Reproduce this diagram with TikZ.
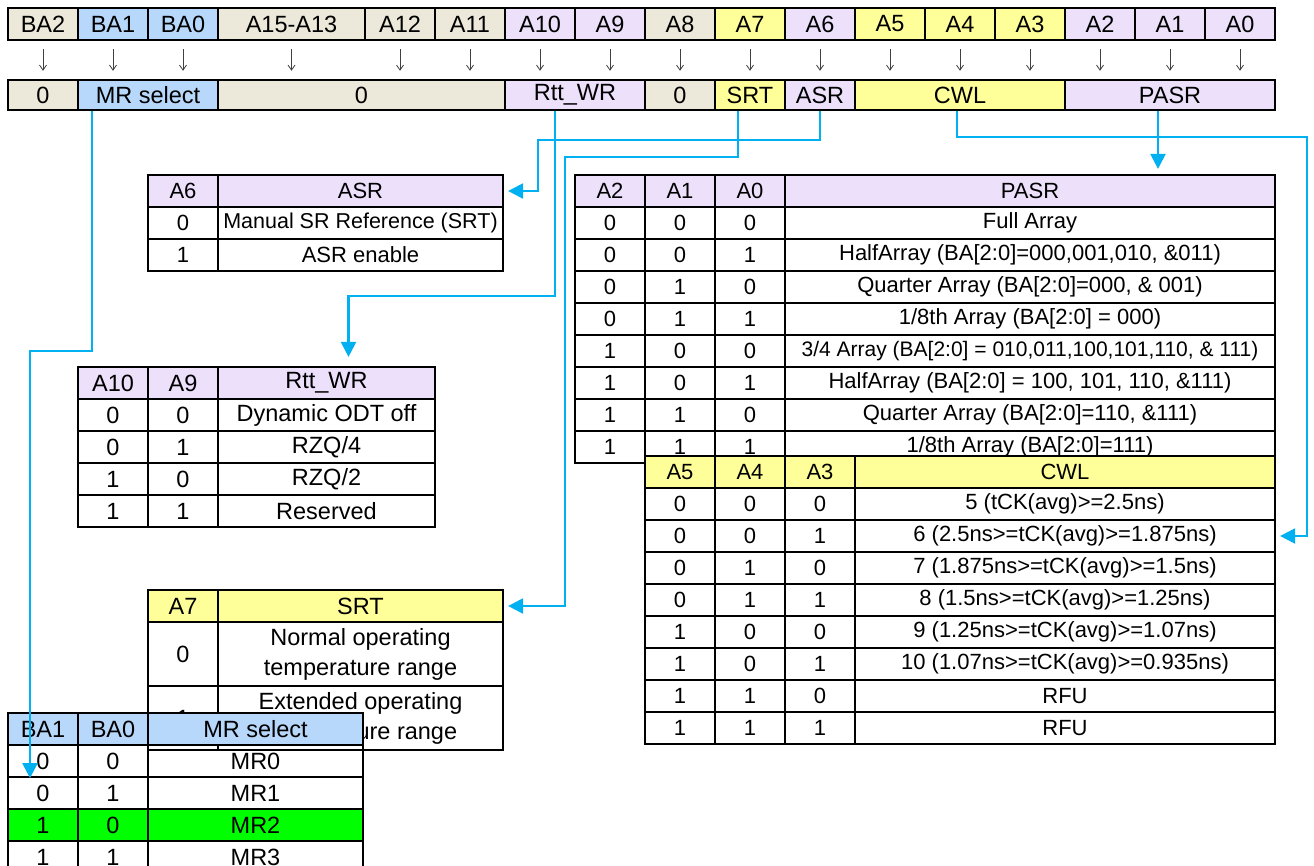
\documentclass[tikz,border=0pt]{standalone}
\usepackage{fontspec}
\setmainfont{Liberation Sans}
\usetikzlibrary{arrows.meta, calc}

\definecolor{bitbeige}{RGB}{236,233,218}
\definecolor{bitblue}{RGB}{183,216,250}
\definecolor{bitlilac}{RGB}{236,224,250}
\definecolor{bityellow}{RGB}{255,255,153}
\definecolor{linkcyan}{RGB}{0,176,240}
\definecolor{mrgreen}{RGB}{0,255,0}

\tikzset{
  bitcell/.style={draw=black, line width=1.5pt, minimum height=32pt, inner sep=0pt, font=\fontsize{23.5}{27}\selectfont},
  tabcell/.style={draw=black, line width=2.2pt, minimum height=32pt, inner sep=0pt, font=\fontsize{22}{26}\selectfont},
  bigtext/.style={font=\fontsize{23.5}{30}\selectfont},
  link/.style={draw=linkcyan, line width=2.2pt, -{Triangle[length=15pt,width=15pt]}},
  tick/.style={draw=black!75, line width=0.8pt, -{Straight Barb[length=5pt,width=7pt]}},
}

\begin{document}
\begin{tikzpicture}[x=1pt, y=-1pt]
    \fill[white] (0,0) rectangle (1314,865);
    \useasboundingbox (0,0) rectangle (1314,865);

    % address bits and the small arrows below them
    \foreach \nm/\lbl/\xa/\w/\col in {ba2/BA2/8/70/bitbeige, ba1/BA1/78/70/bitblue, ba0/BA0/148/70/bitblue,
        a15/A15-A13/218/147/bitbeige, a12/A12/365/70/bitbeige, a11/A11/435/70/bitbeige,
        a10/A10/505/70/bitlilac, a9/A9/575/70/bitlilac, a8/A8/645/70/bitbeige, a7/A7/715/70/bityellow,
        a6/A6/785/70/bitlilac, a5/A5/855/70/bityellow, a4/A4/925/70/bityellow, a3/A3/995/70/bityellow,
        a2/A2/1065/70/bitlilac, a1/A1/1135/70/bitlilac, a0/A0/1205/70/bitlilac}
    {
        \node[bitcell, fill=\col, minimum width=\w] (\nm) at (\xa+\w/2,24) {\lbl};
        \draw[tick] ([yshift=-8pt]\nm.south) -- ++(0,22);
    }

    % register fields
    \foreach \nm/\lbl/\xa/\w/\col in {f0a/0/8/70/bitbeige, mrsel/MR select/78/140/bitblue,
        f0b/0/218/287/bitbeige, rttwr/Rtt\_WR/505/140/bitlilac, f0c/0/645/70/bitbeige,
        srt/SRT/715/70/bityellow, asr/ASR/785/70/bitlilac, cwl/CWL/855/210/bityellow,
        pasr/PASR/1065/210/bitlilac}
        \node[bitcell, fill=\col, minimum width=\w, minimum height=30pt] (\nm) at (\xa+\w/2,95) {\lbl};

    % ASR table
    \node[tabcell, fill=bitlilac, minimum width=70] (hA6) at (183,191) {A6};
    \node[tabcell, fill=bitlilac, minimum width=285] (hAsr) at (360.5,191) {ASR};
    \node[tabcell, minimum width=70] (asr1a) at (183,223) {0};
    \node[tabcell, minimum width=285, font=\fontsize{21.5}{26}\selectfont] (asr1b) at (360.5,223) {Manual SR Reference (SRT)};
    \node[tabcell, minimum width=70] (asr2a) at (183,255) {1};
    \node[tabcell, minimum width=285] (asr2b) at (360.5,255) {ASR enable};

    % Rtt_WR table
    \node[tabcell, bigtext, fill=bitlilac, minimum width=70] (hA10) at (113,383) {A10};
    \node[tabcell, bigtext, fill=bitlilac, minimum width=70] (hA9) at (183,383) {A9};
    \node[tabcell, bigtext, fill=bitlilac, minimum width=217] (hRtt) at (326.5,383) {Rtt\_WR};
    \foreach \p/\q/\txt [count=\i] in {0/0/{Dynamic ODT off}, 0/1/{RZQ/4}, 1/0/{RZQ/2}, 1/1/{Reserved}}
    {
        \node[tabcell, bigtext, minimum width=70] (rtt\i a) at (113,383+32*\i) {\p};
        \node[tabcell, bigtext, minimum width=70] (rtt\i b) at (183,383+32*\i) {\q};
        \node[tabcell, bigtext, minimum width=217] (rtt\i c) at (326.5,383+32*\i) {\txt};
    }

    % PASR table
    \foreach \lbl/\xc/\w [count=\j] in {A2/610/70, A1/680/70, A0/750/70, PASR/1030/490}
        \node[tabcell, fill=bitlilac, minimum width=\w] (hPasr\j) at (\xc,191) {\lbl};
    \coordinate (hPasr) at (hPasr4.north);
    \foreach \p/\q/\r/\fs/\txt [count=\i] in {0/0/0/22/{Full Array},
        0/0/1/22/{HalfArray (BA[2:0]=000,001,010, \&011)},
        0/1/0/22/{Quarter Array (BA[2:0]=000, \& 001)},
        0/1/1/22/{1/8th Array (BA[2:0] = 000)},
        1/0/0/21/{3/4 Array (BA[2:0] = 010,011,100,101,110, \& 111)},
        1/0/1/22/{HalfArray (BA[2:0] = 100, 101, 110, \&111)},
        1/1/0/22/{Quarter Array (BA[2:0]=110, \&111)},
        1/1/1/22/{1/8th Array (BA[2:0]=111)}}
    {
        \node[tabcell, fill=white, minimum width=70] (pasr\i a) at (610,191+32*\i) {\p};
        \node[tabcell, fill=white, minimum width=70] (pasr\i b) at (680,191+32*\i) {\q};
        \node[tabcell, fill=white, minimum width=70] (pasr\i c) at (750,191+32*\i) {\r};
        \node[tabcell, fill=white, minimum width=490, font=\fontsize{\fs}{26}\selectfont] (pasr\i d) at (1030,191+32*\i) {\txt};
    }

    % CWL table, laid over the last PASR row
    \foreach \lbl/\xc/\w [count=\j] in {A5/680/70, A4/750/70, A3/820/70, CWL/1065/420}
        \node[tabcell, fill=bityellow, minimum width=\w] (hCwl\j) at (\xc,472) {\lbl};
    \foreach \p/\q/\r/\txt [count=\i] in {0/0/0/{5 (tCK(avg)>=2.5ns)},
        0/0/1/{6 (2.5ns>=tCK(avg)>=1.875ns)},
        0/1/0/{7 (1.875ns>=tCK(avg)>=1.5ns)},
        0/1/1/{8 (1.5ns>=tCK(avg)>=1.25ns)},
        1/0/0/{9 (1.25ns>=tCK(avg)>=1.07ns)},
        1/0/1/{10 (1.07ns>=tCK(avg)>=0.935ns)},
        1/1/0/{RFU}, 1/1/1/{RFU}}
    {
        \node[tabcell, fill=white, minimum width=70] (cwl\i a) at (680,472+32*\i) {\p};
        \node[tabcell, fill=white, minimum width=70] (cwl\i b) at (750,472+32*\i) {\q};
        \node[tabcell, fill=white, minimum width=70] (cwl\i c) at (820,472+32*\i) {\r};
        \node[tabcell, fill=white, minimum width=420] (cwl\i d) at (1065,472+32*\i) {\txt};
    }

    % SRT table
    \node[tabcell, bigtext, fill=bityellow, minimum width=70] (hA7) at (183,606) {A7};
    \node[tabcell, bigtext, fill=bityellow, minimum width=285] (hSrt) at (360.5,606) {SRT};
    \node[tabcell, bigtext, minimum width=70, minimum height=64pt] (srt1a) at (183,654) {0};
    \node[tabcell, bigtext, minimum width=285, minimum height=64pt, align=center] (srt1b) at (360.5,654) {Normal operating\\temperature range};
    \node[tabcell, bigtext, minimum width=70, minimum height=64pt] (srt2a) at (183,718) {1};
    \node[tabcell, bigtext, minimum width=285, minimum height=64pt, align=center] (srt2b) at (360.5,718) {Extended operating\\temperature range};

    % MR select table, laid over the SRT table
    \node[tabcell, bigtext, fill=bitblue, minimum width=70] (hBa1) at (43,729) {BA1};
    \node[tabcell, bigtext, fill=bitblue, minimum width=70] (hBa0) at (113,729) {BA0};
    \node[tabcell, bigtext, fill=bitblue, minimum width=215] (hMr) at (255.5,729) {MR select};
    \foreach \p/\q/\txt/\col [count=\i] in {0/0/MR0/none, 0/1/MR1/none, 1/0/MR2/mrgreen, 1/1/MR3/none}
    {
        \node[tabcell, bigtext, fill=\col, minimum width=70] (mr\i a) at (43,729+32*\i) {\p};
        \node[tabcell, bigtext, fill=\col, minimum width=70] (mr\i b) at (113,729+32*\i) {\q};
        \node[tabcell, bigtext, fill=\col, minimum width=215] (mr\i c) at (255.5,729+32*\i) {\txt};
    }

    % connectors from the fields to their tables
    \draw[link] ([xshift=-56pt]mrsel.south) -- ++(0,240) -| ([xshift=-13pt]mr1a.south);
    \draw[link] ([xshift=-20pt]rttwr.south) -- ++(0,185) -| ([xshift=22pt,yshift=9pt]hRtt.north);
    \draw[link] (asr.south) -- ++(0,29) -| ([xshift=34pt]hAsr.east) -- ([xshift=4pt]hAsr.east);
    \draw[link] ([xshift=-12pt]srt.south) -- ++(0,46) -| ([xshift=61pt]hSrt.east) -- ([xshift=4pt]hSrt.east);
    \draw[link] ([xshift=-3pt]cwl.south) -- ++(0,26) -| ([xshift=31pt]cwl2d.east) -- ([xshift=4pt]cwl2d.east);
    \draw[link, shorten >=5pt] ([xshift=-12pt]pasr.south) -- ([xshift=-12pt]pasr.south |- hPasr);
\end{tikzpicture}
\end{document}
